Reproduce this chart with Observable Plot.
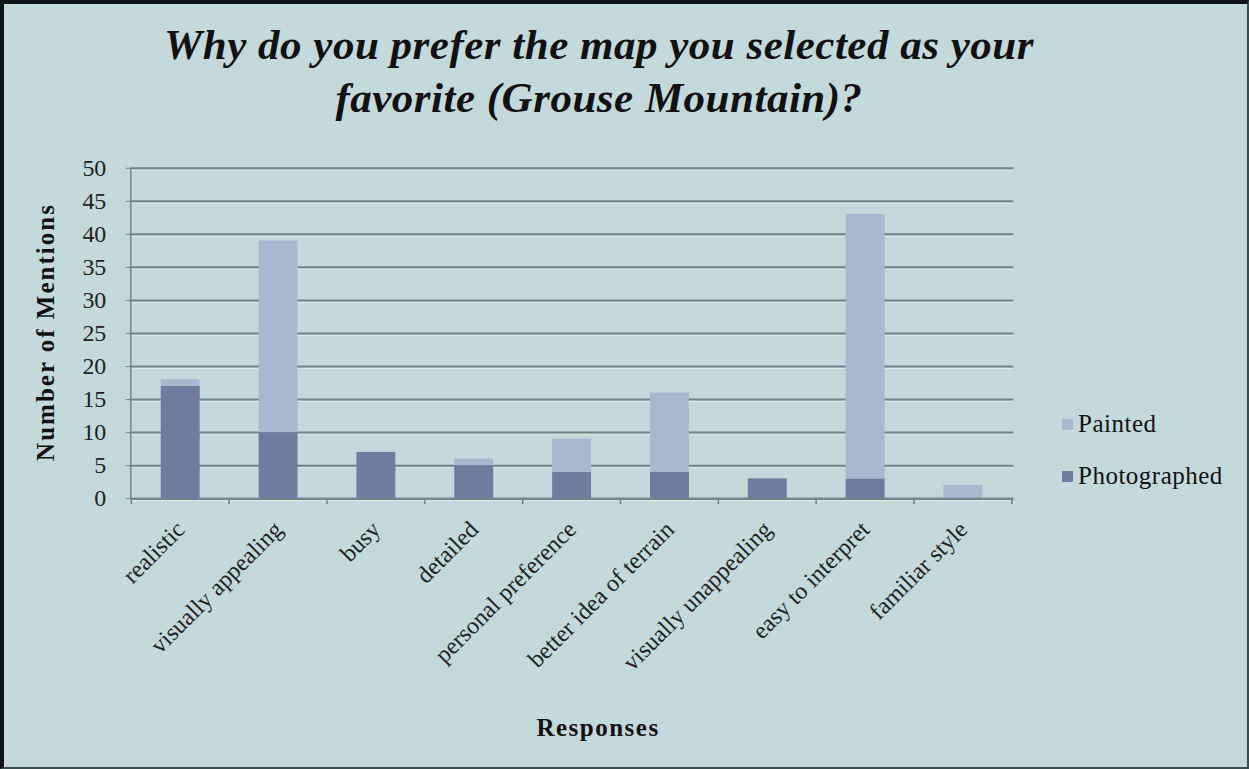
<!DOCTYPE html>
<html>
<head>
<meta charset="utf-8">
<script src="https://cdn.jsdelivr.net/npm/d3@7"></script>
<script src="https://cdn.jsdelivr.net/npm/@observablehq/plot@0.6"></script>
<style>
  html, body { margin: 0; padding: 0; background: #c4d9dc; }
  #frame {
    position: relative; width: 1249px; height: 769px; box-sizing: border-box;
    background: #c4d9dc; border-top: 4px solid #0d1418; border-left: 4px solid #0d1418;
    border-right: 2px solid #3a4a4e; border-bottom: 2px solid #3a4a4e; overflow: hidden;
    font-family: "Liberation Serif", serif;
  }
  #chart { position: absolute; left: -4px; top: -4px; }
  .title {
    position: absolute; left: 0; width: 1190px; text-align: center;
    font-style: italic; font-weight: bold; font-size: 43px; letter-spacing: 0.5px; color: #111; line-height: 50px;
  }
  .ylab {
    position: absolute; left: 42px; top: 328px; transform: translate(-50%, -50%) rotate(-90deg);
    font-weight: bold; font-size: 25px; letter-spacing: 2px; white-space: nowrap; color: #111;
  }
  .xlab {
    position: absolute; left: 594px; top: 710px; transform: translateX(-50%);
    font-weight: bold; font-size: 25px; letter-spacing: 1.5px; color: #111;
  }
  .legend { position: absolute; left: 1058px; font-size: 25px; letter-spacing: 0.5px; color: #111; }
  .legend span.sw { display: inline-block; width: 11px; height: 11px; margin-right: 5px; vertical-align: 2px; }
</style>
</head>
<body>
<div id="frame">
  <div id="chart"></div>
  <div class="title" style="top:16px">Why do you prefer the map you selected as your</div>
  <div class="title" style="top:69px">favorite (Grouse Mountain)?</div>
  <div class="ylab">Number of Mentions</div>
  <div class="xlab">Responses</div>
  <div class="legend" style="top:406px"><span class="sw" style="background:#a6b9cf"></span>Painted</div>
  <div class="legend" style="top:458px"><span class="sw" style="background:#717a9f"></span>Photographed</div>
</div>
<script>
const categories = ["realistic", "visually appealing", "busy", "detailed", "personal preference",
  "better idea of terrain", "visually unappealing", "easy to interpret", "familiar style"];
const photographed = [17, 10, 7, 5, 4, 4, 3, 3, 0];
const painted = [1, 29, 0, 1, 5, 12, 0, 40, 2];
const series = ["Photographed", "Painted"];
const seriesColors = ["#717a9f", "#a6b9cf"];
const yTicks = [0, 5, 10, 15, 20, 25, 30, 35, 40, 45, 50];

const rows = [];
categories.forEach((c, i) => {
  rows.push({category: c, series: "Photographed", value: photographed[i]});
  rows.push({category: c, series: "Painted", value: painted[i]});
});

const axisColor = "#6b8589";
const plot = Plot.plot({
  width: 1249,
  height: 769,
  marginLeft: 131,
  marginRight: 234,
  marginTop: 168,
  marginBottom: 270,
  style: { background: "transparent", fontFamily: "Liberation Serif, serif", color: "#222" },
  x: { domain: categories, paddingInner: 0.6, paddingOuter: 0.3, label: null },
  y: { domain: [0, 50], ticks: yTicks, label: null },
  color: { domain: series, range: seriesColors },
  marks: [
    Plot.gridY(yTicks, { stroke: "#e2ecee", strokeOpacity: 0.8, strokeWidth: 1, dy: 2 }),
    Plot.gridY(yTicks, { stroke: axisColor, strokeOpacity: 1, strokeWidth: 2 }),
    Plot.barY(rows, Plot.stackY({ order: series }, { x: "category", y: "value", fill: "series", z: "series" })),
    Plot.axisY({ ticks: yTicks, tickSize: 5, tickPadding: 20, stroke: axisColor, fontSize: 24, fill: "#222",
      style: "letter-spacing: 1.5px" }),
    Plot.ruleY([0], { stroke: axisColor, strokeWidth: 2 }),
    Plot.axisX({ tickSize: 0, tickRotate: -45, tickPadding: 27, fontSize: 24, fill: "#222", dx: 0,
      style: "letter-spacing: 1.2px" })
  ]
});
document.getElementById("chart").appendChild(plot);
const svg = d3.select(plot);
const yS = plot.scale("y");
const xS = plot.scale("x");
const left = xS.range[0];
// y axis line
svg.append("line").attr("x1", left).attr("x2", left)
  .attr("y1", yS.apply(50)).attr("y2", yS.apply(0)).attr("stroke", axisColor).attr("stroke-width", 1.5);
// category boundary ticks on the x axis
const bw = xS.bandwidth, step = xS.step;
const bounds = categories.map(c => xS.apply(c) + bw / 2 - step / 2);
bounds.push(xS.apply(categories[categories.length - 1]) + bw / 2 + step / 2);
bounds.forEach(bx => {
  svg.append("line").attr("x1", bx).attr("x2", bx)
    .attr("y1", yS.apply(0)).attr("y2", yS.apply(0) + 6).attr("stroke", axisColor).attr("stroke-width", 1.5);
});
</script>
</body>
</html>
